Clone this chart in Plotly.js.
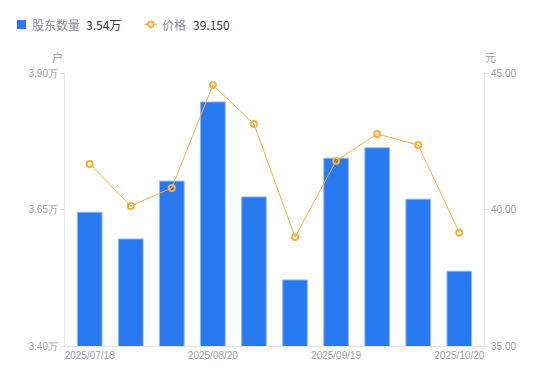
<!DOCTYPE html>
<html><head><meta charset="utf-8">
<script src="https://cdn.plot.ly/plotly-3.0.1.min.js"></script>
<style>html,body{margin:0;padding:0;background:#fff}#chart{width:550px;height:381px}</style>
</head><body><div id="chart"></div>
<script>
const dates = ["2025/07/18","2025/07/31","2025/08/10","2025/08/20","2025/08/31","2025/09/10","2025/09/19","2025/09/30","2025/10/10","2025/10/20"];
const holders = [3.645,3.596,3.702,3.847,3.673,3.521,3.744,3.763,3.669,3.537]; // 万户
const prices = [41.67,40.13,40.79,44.56,43.13,38.99,41.78,42.77,42.36,39.15];
const tickDates = ["2025/07/18","2025/08/20","2025/09/19","2025/10/20"];
const leftTicks = [3.40,3.65,3.90];
const rightTicks = [35,40,45];

const gray = "#9b9ba8", axisCol = "#e3e3e8", blue = "#2878F0", orange = "#F8B03C";
const font = "Noto Sans CJK SC, Noto Sans, sans-serif";
const numFont = "Liberation Sans, Arial, sans-serif";

const traces = [
  {type:"bar", x:dates, y:holders, marker:{color:blue, line:{color:"#8db8f7", width:1}}, width:0.6, hoverinfo:"skip"},
  {type:"scatter", mode:"lines+markers", x:dates, y:prices, yaxis:"y2",
   line:{color:orange, width:1}, marker:{symbol:"circle-open", size:6, color:orange, line:{width:2, color:orange}}, hoverinfo:"skip"}
];

const lastH = holders[holders.length-1].toFixed(2) + "万";
const lastP = prices[prices.length-1].toFixed(3);
const LY = 1.178;

const layout = {
  width:550, height:381, margin:{l:65, r:66, t:73, b:35},
  paper_bgcolor:"#fff", plot_bgcolor:"#fff", showlegend:false,
  font:{family:font, size:10, color:gray},
  xaxis:{type:"category", tickmode:"array", tickvals:tickDates, ticktext:tickDates,
    showline:true, linecolor:axisCol, linewidth:1, showgrid:false, ticks:"", tickfont:{size:10, color:gray, family:numFont}, zeroline:false},
  yaxis:{range:[3.40,3.90], tickvals:leftTicks, ticktext:leftTicks.map(v=>v.toFixed(2)+"万"),
    showline:true, linecolor:axisCol, showgrid:false, zeroline:false, ticks:"outside", ticklen:4, tickcolor:axisCol,
    tickfont:{size:10, color:gray, family:numFont}},
  yaxis2:{range:[35,45], overlaying:"y", side:"right", tickvals:rightTicks, ticktext:rightTicks.map(v=>v.toFixed(2)),
    showline:true, linecolor:axisCol, showgrid:false, zeroline:false, ticks:"outside", ticklen:4, tickcolor:axisCol,
    tickfont:{size:10, color:gray, family:numFont}},
  shapes:[
    {type:"rect", xref:"paper", yref:"paper", x0:-0.1146, x1:-0.093, y0:1.161, y1:1.194, fillcolor:blue, line:{width:0}},
    {type:"line", xref:"paper", yref:"paper", x0:0.19, x1:0.219, y0:LY, y1:LY, line:{color:orange, width:1.5}},
    {type:"circle", xref:"paper", yref:"paper", x0:0.198, x1:0.2114, y0:1.168, y1:1.189, fillcolor:"#fff", line:{color:orange, width:2}}
  ],
  annotations:[
    {xref:"paper", yref:"paper", x:-0.083, y:LY, xanchor:"left", yanchor:"middle", showarrow:false,
     text:"股东数量", font:{size:12, color:"#8a8a96", family:font}},
    {xref:"paper", yref:"paper", x:0.046, y:LY, xanchor:"left", yanchor:"middle", showarrow:false,
     text:lastH, font:{size:12, color:"#333", family:font}},
    {xref:"paper", yref:"paper", x:0.226, y:LY, xanchor:"left", yanchor:"middle", showarrow:false,
     text:"价格", font:{size:12, color:"#8a8a96", family:font}},
    {xref:"paper", yref:"paper", x:0.3, y:LY, xanchor:"left", yanchor:"middle", showarrow:false,
     text:lastP, font:{size:12, color:"#333", family:font}},
    {xref:"paper", yref:"paper", x:-0.017, y:1.06, xanchor:"center", yanchor:"middle", showarrow:false,
     text:"户", font:{size:11, color:gray, family:font}},
    {xref:"paper", yref:"paper", x:1.015, y:1.06, xanchor:"center", yanchor:"middle", showarrow:false,
     text:"元", font:{size:11, color:gray, family:font}}
  ]
};
Plotly.newPlot("chart", traces, layout, {staticPlot:true, displayModeBar:false});
</script></body></html>
